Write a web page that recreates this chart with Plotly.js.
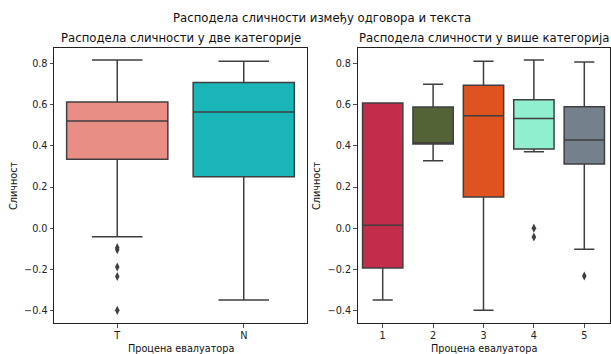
<!DOCTYPE html>
<html><head><meta charset="utf-8">
<script src="https://cdn.plot.ly/plotly-3.0.1.min.js"></script>
<style>html,body{margin:0;padding:0;background:#fff}#chart{width:611px;height:354px}</style>
</head><body><div id="chart"></div>
<script>
// Left panel: two categories
const catsA = ['T', 'N'];
const q1A = [0.335, 0.250];
const medA = [0.521, 0.565];
const q3A = [0.614, 0.708];
const loA = [-0.042, -0.350];
const hiA = [0.818, 0.812];
const colorsA = ['#E98E84', '#1AB5B7'];
const outCatA = ['T', 'T', 'T', 'T', 'T'];
const outValA = [-0.095, -0.105, -0.189, -0.235, -0.400];

// Right panel: five categories
const catsB = ['1', '2', '3', '4', '5'];
const q1B = [-0.194, 0.409, 0.151, 0.385, 0.312];
const medB = [0.014, 0.415, 0.547, 0.534, 0.429];
const q3B = [0.609, 0.589, 0.695, 0.625, 0.591];
const loB = [-0.350, 0.328, -0.399, 0.372, -0.103];
const hiB = [0.609, 0.700, 0.812, 0.818, 0.808];
const colorsB = ['#C32D4B', '#536336', '#DF5320', '#8FEFCF', '#74808C'];
const outCatB = ['4', '4', '5'];
const outValB = [0.000, -0.043, -0.233];

const yTicks = [-0.4, -0.2, 0.0, 0.2, 0.4, 0.6, 0.8];
const yTickText = ['\u22120.4', '\u22120.2', '0.0', '0.2', '0.4', '0.6', '0.8'];

const lineCol = '#3f3f3f';
const traces = [];
function addBoxes(cats, q1, med, q3, lo, hi, cols, xa, ya) {
  cats.forEach((c, i) => {
    traces.push({
      type: 'box', x: [c], q1: [q1[i]], median: [med[i]], q3: [q3[i]],
      lowerfence: [lo[i]], upperfence: [hi[i]],
      width: 0.8, whiskerwidth: 0.5, boxpoints: false,
      fillcolor: cols[i], line: {color: lineCol, width: 1.5},
      xaxis: xa, yaxis: ya, showlegend: false, hoverinfo: 'y'
    });
  });
}
addBoxes(catsA, q1A, medA, q3A, loA, hiA, colorsA, 'x', 'y');
addBoxes(catsB, q1B, medB, q3B, loB, hiB, colorsB, 'x2', 'y2');
traces.push({type: 'scatter', mode: 'markers', x: outCatA, y: outValA, xaxis: 'x', yaxis: 'y',
  marker: {symbol: 'diamond-tall', size: 6.5, color: lineCol}, showlegend: false});
traces.push({type: 'scatter', mode: 'markers', x: outCatB, y: outValB, xaxis: 'x2', yaxis: 'y2',
  marker: {symbol: 'diamond-tall', size: 6.5, color: lineCol}, showlegend: false});

const W = 611, H = 354;
const TF = 11.7, LF = 9.7;
const font = {family: 'DejaVu Sans', color: '#222'};
const axBase = {
  showline: true, mirror: true, linecolor: '#222', linewidth: 1,
  ticks: 'outside', ticklen: 3.5, tickwidth: 0.8, tickcolor: '#222',
  showgrid: false, zeroline: false, tickfont: {family: 'DejaVu Sans', size: LF, color: '#222'},
  fixedrange: true
};
const yDom = [1 - 323.3 / H, 1 - 48.3 / H];
const yAx = Object.assign({}, axBase, {range: [-0.463, 0.875], tickmode: 'array', tickvals: yTicks, ticktext: yTickText, domain: yDom});
function ann(text, px, py, size, angle) {
  return {text: text, x: px / W, y: 1 - py / H, xref: 'paper', yref: 'paper', showarrow: false,
    textangle: angle || 0, font: {family: 'DejaVu Sans', size: size, color: '#111'}, xanchor: 'center', yanchor: 'middle'};
}
const layout = {
  width: W, height: H, margin: {l: 0, r: 0, t: 0, b: 0},
  paper_bgcolor: '#fff', plot_bgcolor: '#fff', font: font, boxmode: 'overlay',
  xaxis: Object.assign({}, axBase, {type: 'category', categoryarray: catsA, categoryorder: 'array', range: [-0.5, 1.5], domain: [54 / W, 307 / W], anchor: 'y'}),
  yaxis: Object.assign({}, yAx, {anchor: 'x'}),
  xaxis2: Object.assign({}, axBase, {type: 'category', categoryarray: catsB, categoryorder: 'array', range: [-0.5, 4.5], domain: [357.5 / W, 609.5 / W], anchor: 'y2'}),
  yaxis2: Object.assign({}, yAx, {anchor: 'x2'}),
  annotations: [
    ann('Расподела сличности између одговора и текста', 322, 18, TF),
    ann('Расподела сличности у две категорије', 180.5, 38, TF),
    ann('Расподела сличности у више категорија', 483.5, 38, TF),
    ann('Процена евалуатора', 180.5, 348, LF),
    ann('Процена евалуатора', 483.5, 348, LF),
    ann('Сличност', 13, 186, LF, -90),
    ann('Сличност', 316, 186, LF, -90)
  ]
};
Plotly.newPlot('chart', traces, layout, {displayModeBar: false, staticPlot: true});
</script>
</body></html>
